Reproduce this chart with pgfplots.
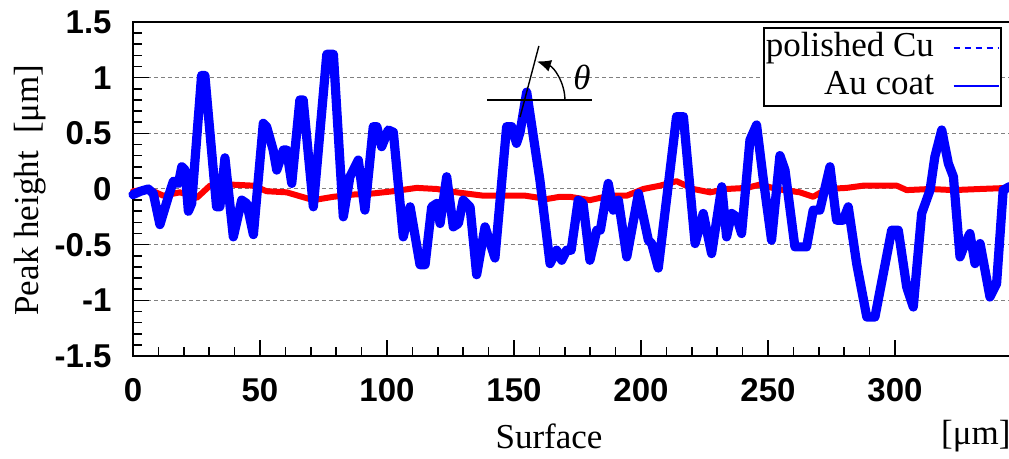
\documentclass[border=0pt]{standalone}
\usepackage{fontspec}
\setmainfont{Liberation Serif}
\newfontfamily\tickfont{Liberation Sans}
\usepackage{pgfplots}
\pgfplotsset{compat=1.18}
\usetikzlibrary{arrows.meta}

\pgfplotstableread{
x y
0 -0.02
6 0.0
11.9 -0.06
18.5 -0.03
25.1 -0.08
30.3 0.03
38.2 0.04
47.4 0.03
52.6 -0.02
60.5 -0.03
71.0 -0.10
78.9 -0.07
86.7 -0.05
94.6 -0.04
102.5 -0.02
111.7 0.01
119.6 0.0
127.4 -0.03
137.9 -0.06
146 -0.06
154.4 -0.06
162.9 -0.09
168.1 -0.07
172.0 -0.07
179.9 -0.10
187.8 -0.06
194.4 -0.06
200.9 0.0
207.5 0.03
214.0 0.07
220.6 0.0
227.2 -0.03
233.7 0.0
241.6 0.01
246.9 0.04
253.4 0.0
262.6 -0.03
267.8 -0.07
273.1 0.0
281.0 0.01
287.5 0.03
300.7 0.03
304.6 -0.01
313.8 0.0
323.0 -0.01
333.5 0.0
344.9 0.01
350 0.01
}\redtab

\pgfplotstableread{
x y
0 -0.05
3 -0.02
6 0.0
8 -0.04
10.6 -0.32
13.9 -0.07
15.9 0.07
17.9 0.05
19.2 0.20
20.5 0.17
21.8 -0.20
23.1 -0.13
27.0 1.02
28.3 1.02
32.9 -0.16
34.2 -0.16
36.2 0.28
39.5 -0.43
42.8 -0.10
44.8 -0.13
47.4 -0.41
51.3 0.59
52.6 0.56
55.2 0.35
56.6 0.17
59.2 0.35
60.5 0.35
62.5 0.05
65.7 0.80
67.0 0.80
71.0 -0.16
76.3 1.21
78.9 1.21
82.8 -0.25
85.4 0.11
88.7 0.26
91.3 -0.19
94.6 0.56
96.0 0.56
97.9 0.38
100.5 0.53
102.5 0.51
106.4 -0.43
109.1 -0.16
113.0 -0.68
115.0 -0.68
117.6 -0.16
119.6 -0.13
120.9 -0.31
123.5 0.11
126.1 -0.34
128.1 -0.31
130.0 -0.10
132.7 -0.16
135.3 -0.77
138.6 -0.34
142.5 -0.62
147.1 0.56
149.1 0.56
151.0 0.41
152.4 0.51
155.0 0.87
160.2 0.08
164.2 -0.67
166.8 -0.55
168.8 -0.64
170.7 -0.55
172.5 -0.55
175.3 -0.10
177.2 -0.13
179.9 -0.64
182.6 -0.37
184.0 -0.37
187.1 0.05
189.1 -0.19
191.1 -0.10
194.4 -0.61
199.0 -0.04
202.9 -0.46
204.2 -0.49
206.8 -0.71
214.0 0.65
216.7 0.65
221.3 -0.49
224.5 -0.22
227.8 -0.58
231.8 0.02
233.7 -0.43
235.7 -0.22
237.6 -0.25
239.6 -0.40
242.9 0.44
245.5 0.575
248.2 0.08
251.4 -0.46
254.7 0.30
256.7 0.17
260.6 -0.52
265.2 -0.52
267.8 -0.19
270.4 -0.19
274.4 0.20
277.0 -0.28
279.6 -0.28
281.6 -0.16
284.9 -0.67
288.9 -1.15
292.1 -1.15
298.7 -0.37
301.3 -0.37
304.6 -0.88
307.2 -1.06
310.5 -0.22
313.8 -0.01
315.7 0.29
318.4 0.53
321.0 0.23
323.0 0.11
325.6 -0.61
327.6 -0.49
329.5 -0.40
331.5 -0.67
333.5 -0.49
337.4 -0.97
340.0 -0.85
342.6 -0.01
345 0.02
350 0.02
}\bluetab

\begin{document}
\begin{tikzpicture}
\begin{axis}[name=ax, scale only axis, width=444.5pt, height=167pt,
  xmin=0, xmax=350, ymin=-1.5, ymax=1.5,
  clip=false,
  xtick={0,50,100,150,200,250,300},
  ytick={-1.5,-1,-0.5,0,0.5,1,1.5},
  minor x tick num=4, minor y tick num=4,
  xtick pos=bottom, ytick pos=left,
  tick align=inside,
  major tick length=8pt, minor tick length=4.5pt,
  every tick/.style={black, line width=0.8pt},
  axis line style={line width=1.2pt},
  ymajorgrids,
  major grid style={gray, dash pattern=on 2pt off 1.5pt, line width=0.5pt},
  ticklabel style={font=\tickfont\bfseries\fontsize{16.5}{16.5}\selectfont},
  /pgf/number format/assume math mode=true,
  xticklabel style={yshift=-7.7pt},
  yticklabel style={xshift=-7.2pt},
  xlabel={Surface},
  xlabel style={at={(rel axis cs:0.468,-0.2395)}, anchor=center, font=\fontsize{17.5}{17.5}\selectfont},
  ylabel={Peak height\ \ [μm]},
  ylabel style={at={(rel axis cs:-0.1159,0.497)}, anchor=center, font=\fontsize{17.5}{17.5}\selectfont},
  legend style={at={(rel axis cs:0.7087,0.985)}, anchor=north west, draw=black, line width=0.8pt,
    font=\fontsize{17.5}{17.5}\selectfont, inner sep=0.5pt, row sep=0pt, column sep=9pt,
    nodes={inner sep=0.5pt, text height=13.5pt, text depth=4.5pt}},
  legend cell align=right, legend plot pos=right,
  legend image code/.code={\draw[#1] (0cm,0cm) -- (0.8cm,0cm);},
]
\addplot[red, line width=3pt, line join=round, line cap=round, forget plot] table[x=x,y=y] {\redtab};
\addplot[blue, line width=4.6pt, line join=round, line cap=round, forget plot] table[x=x,y=y] {\bluetab};
\addlegendimage{blue, dash pattern=on 3pt off 2.5pt, line width=0.7pt}
\addlegendentry{polished Cu}
\addlegendimage{blue, line width=0.7pt}
\addlegendentry{Au coat}

\draw[black, line width=0.7pt] (axis cs:139.4,0.80) -- (axis cs:180.7,0.80);
\draw[black, line width=0.7pt] (axis cs:152.4,0.647) -- (axis cs:159.8,1.285);
\draw[black, line width=0.7pt, -{Latex[length=7pt,width=6pt]}] (axis cs:170.05,0.80) arc[start angle=0, end angle=72, radius=20.25pt];
\node[font=\fontsize{17.5}{17.5}\selectfont\itshape] at (axis cs:176.8,1.0) {θ};
\node[font=\fontsize{17.5}{17.5}\selectfont] at (rel axis cs:0.948,-0.2395) {[μm]};
\end{axis}
\pgfresetboundingbox
\path[use as bounding box] (ax.south west) ++(-66.5pt,-51.5pt) rectangle ++(504.5pt,229.5pt);
\end{tikzpicture}
\end{document}
